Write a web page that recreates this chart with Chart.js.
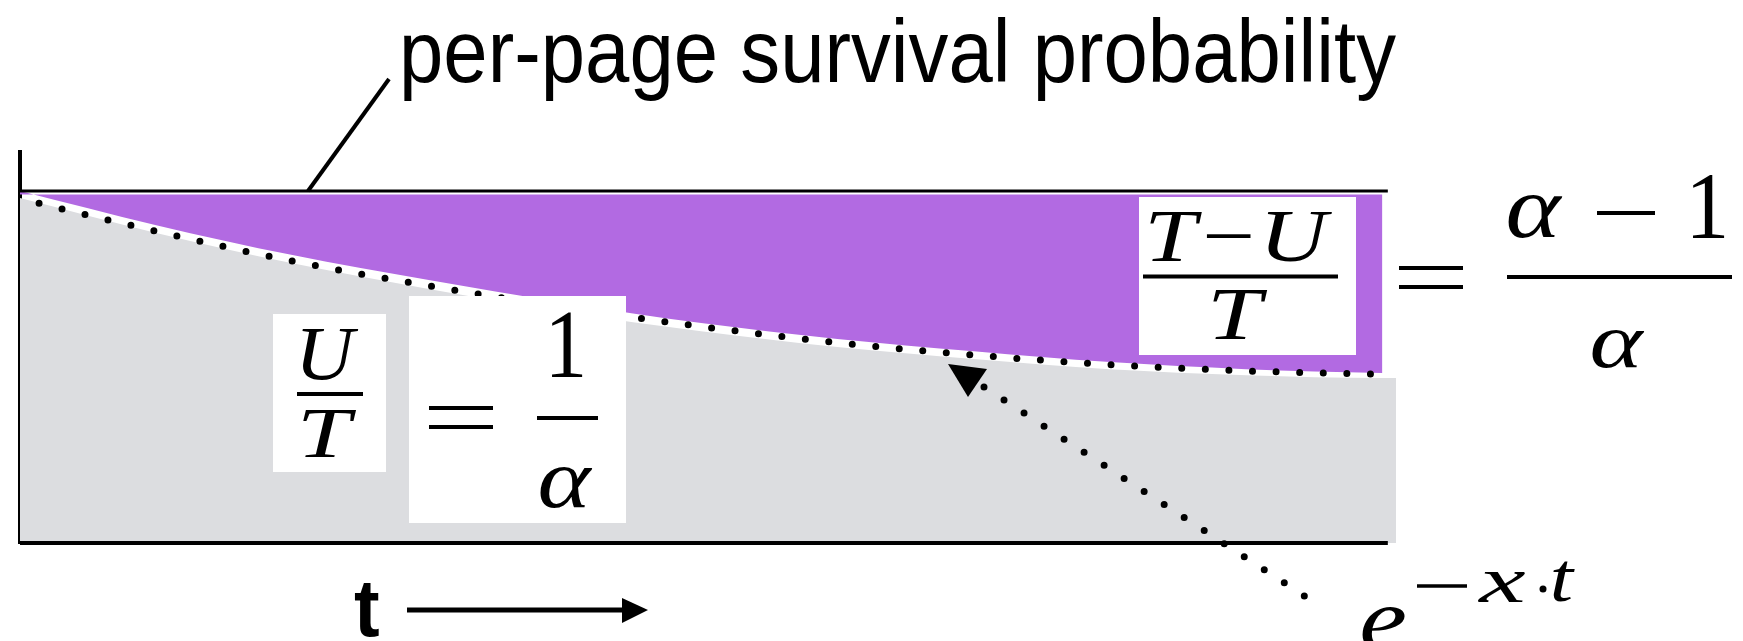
<!DOCTYPE html>
<html>
<head>
<meta charset="utf-8">
<script src="https://cdn.jsdelivr.net/npm/chart.js@4.4.1/dist/chart.umd.min.js"></script>
<style>
  html, body { margin: 0; padding: 0; background: #fff; }
  #wrap { width: 1743px; height: 641px; }
</style>
</head>
<body>
<div id="wrap"><canvas id="survivalChart"></canvas></div>
<script>
// values (t runs 0..1 along the time axis)
const tValues  = [0, 0.1, 0.2, 0.3, 0.4, 0.5, 0.6, 0.7, 0.8, 0.9, 1.0];
const survival = [1.000, 0.903, 0.818, 0.747, 0.682, 0.625, 0.580, 0.545, 0.514, 0.494, 0.483];
const expDecay = [0.978, 0.886, 0.801, 0.731, 0.669, 0.615, 0.569, 0.534, 0.507, 0.489, 0.479];
const grayT    = [0, 0.1, 0.2, 0.3, 0.4, 0.5, 0.6, 0.7, 0.8, 0.9, 1.0, 1.01];
const grayTop  = [0.980, 0.881, 0.795, 0.722, 0.656, 0.602, 0.557, 0.523, 0.494, 0.477, 0.469, 0.469];
const axisT    = [0, 1.004];
const ceiling  = [1, 1];
const floorLine = [0, 0];

const PURPLE = '#b26ae2';
const GRAY = '#dcdde0';
const MATH = 'italic 80px "Liberation Serif"';
const ROMAN = '80px "Liberation Serif"';

function pts(xs, ys) {
    return xs.map((x, i) => ({ x: x, y: ys[i] }));
}

// draw a string so its ink fills the given box
function fitText(ctx, text, font, x0, x1, y0, y1) {
    ctx.save();
    ctx.font = font;
    ctx.textAlign = 'left';
    ctx.textBaseline = 'alphabetic';
    const m = ctx.measureText(text);
    const w = m.actualBoundingBoxLeft + m.actualBoundingBoxRight;
    const h = m.actualBoundingBoxAscent + m.actualBoundingBoxDescent;
    ctx.translate(x0, y0);
    ctx.scale((x1 - x0) / w, (y1 - y0) / h);
    ctx.fillStyle = '#000';
    ctx.fillText(text, m.actualBoundingBoxLeft, m.actualBoundingBoxAscent);
    ctx.restore();
}

function bar(ctx, x0, x1, y, w) {
    ctx.beginPath();
    ctx.moveTo(x0, y);
    ctx.lineTo(x1, y);
    ctx.lineWidth = w;
    ctx.strokeStyle = '#000';
    ctx.stroke();
}

function whiteBox(ctx, x0, y0, x1, y1) {
    ctx.fillStyle = '#fff';
    ctx.fillRect(x0, y0, x1 - x0, y1 - y0);
}

const notesPlugin = {
    id: 'notes',
    afterDraw(chart) {
        const ctx = chart.ctx;
        ctx.save();

        // leader line to the title
        ctx.beginPath();
        ctx.moveTo(308, 191);
        ctx.lineTo(389, 79);
        ctx.lineWidth = 4;
        ctx.strokeStyle = '#000';
        ctx.stroke();

        fitText(ctx, 'per-page survival probability', '80px "Liberation Sans"', 404, 1396, 18, 101);

        // U/T = 1/alpha
        whiteBox(ctx, 273, 314, 386, 472);
        whiteBox(ctx, 409, 296, 626, 523);
        fitText(ctx, 'U', MATH, 302, 359, 328, 380);
        bar(ctx, 297, 363, 394, 4);
        fitText(ctx, 'T', MATH, 303, 357, 410, 457);
        bar(ctx, 429, 493, 408, 4);
        bar(ctx, 429, 493, 427, 4);
        fitText(ctx, '1', ROMAN, 552, 583, 313, 377);
        bar(ctx, 537, 598, 418, 4);
        fitText(ctx, 'α', MATH, 540, 593, 467, 508);

        // (T-U)/T = (alpha-1)/alpha
        whiteBox(ctx, 1139, 197, 1356, 355);
        fitText(ctx, 'T−U', MATH, 1150, 1333, 212, 262);
        bar(ctx, 1143, 1338, 276.5, 4);
        fitText(ctx, 'T', MATH, 1213, 1268, 290, 339);
        bar(ctx, 1399, 1463, 268, 4);
        bar(ctx, 1399, 1463, 287, 4);
        fitText(ctx, 'α', MATH, 1508, 1563, 195, 238);
        bar(ctx, 1597, 1655, 213, 4);
        fitText(ctx, '1', ROMAN, 1693, 1725, 175, 238);
        bar(ctx, 1507, 1732, 277, 4);
        fitText(ctx, 'α', MATH, 1592, 1645, 330, 368);

        // dotted pointer to e^{-x t}
        ctx.beginPath();
        ctx.moveTo(984, 387);
        ctx.lineTo(1306, 597);
        ctx.setLineDash([0, 23.9]);
        ctx.lineCap = 'round';
        ctx.lineWidth = 7;
        ctx.stroke();
        ctx.setLineDash([]);
        ctx.lineCap = 'butt';
        ctx.beginPath();
        ctx.moveTo(948, 364);
        ctx.lineTo(987, 369);
        ctx.lineTo(968, 397);
        ctx.closePath();
        ctx.fillStyle = '#000';
        ctx.fill();

        fitText(ctx, 'e', MATH, 1362, 1405, 607, 650);
        bar(ctx, 1417, 1467, 586, 3.5);
        fitText(ctx, 'x', MATH, 1478, 1525, 572, 602);
        ctx.beginPath();
        ctx.arc(1543, 589, 3.5, 0, Math.PI * 2);
        ctx.fillStyle = '#000';
        ctx.fill();
        fitText(ctx, 't', MATH, 1553, 1575, 562, 602);

        // time arrow
        fitText(ctx, 't', 'bold 80px "Liberation Sans"', 354, 379, 583, 637);
        bar(ctx, 407, 624, 610, 5);
        ctx.beginPath();
        ctx.moveTo(622, 598);
        ctx.lineTo(648, 610);
        ctx.lineTo(622, 623);
        ctx.closePath();
        ctx.fillStyle = '#000';
        ctx.fill();

        ctx.restore();
    }
};

const survivalChart = new Chart(document.getElementById('survivalChart'), {
    type: 'line',
    data: {
        datasets: [
            {
                label: 'unused',
                data: pts(grayT, grayTop),
                fill: 'origin',
                backgroundColor: GRAY,
                borderWidth: 0,
                pointRadius: 0,
                cubicInterpolationMode: 'monotone',
                order: 5
            },
            {
                label: 'per-page survival',
                data: pts(tValues, survival),
                fill: { value: 0.99 },
                backgroundColor: PURPLE,
                borderWidth: 0,
                pointRadius: 0,
                cubicInterpolationMode: 'monotone',
                order: 4
            },
            {
                label: 'ceiling',
                data: pts(axisT, ceiling),
                borderColor: '#000',
                borderWidth: 3,
                pointRadius: 0,
                fill: false,
                clip: false,
                order: 3
            },
            {
                label: 'floor',
                data: pts(axisT, floorLine),
                borderColor: '#000',
                borderWidth: 4,
                pointRadius: 0,
                fill: false,
                clip: false,
                order: 2
            },
            {
                label: 'e^-xt',
                data: pts(tValues, expDecay),
                borderColor: '#000',
                borderWidth: 7,
                borderDash: [0, 23.6],
                borderDashOffset: 4,
                borderCapStyle: 'round',
                pointRadius: 0,
                fill: false,
                cubicInterpolationMode: 'monotone',
                order: 1
            }
        ]
    },
    options: {
        responsive: true,
        maintainAspectRatio: false,
        animation: false,
        layout: { padding: { left: 20, right: 347, top: 152, bottom: 98 } },
        scales: {
            x: {
                type: 'linear',
                min: 0,
                max: 1.01,
                grid: { display: false },
                ticks: { display: false },
                border: { display: false },
                afterFit: s => { s.height = 0; }
            },
            y: {
                min: 0,
                max: 1.111,
                grid: { display: false },
                ticks: { display: false },
                border: { display: true, color: '#000', width: 4 },
                afterFit: s => { s.width = 0; }
            }
        },
        plugins: {
            legend: { display: false },
            tooltip: { enabled: false }
        }
    },
    plugins: [notesPlugin]
});
</script>
</body>
</html>
